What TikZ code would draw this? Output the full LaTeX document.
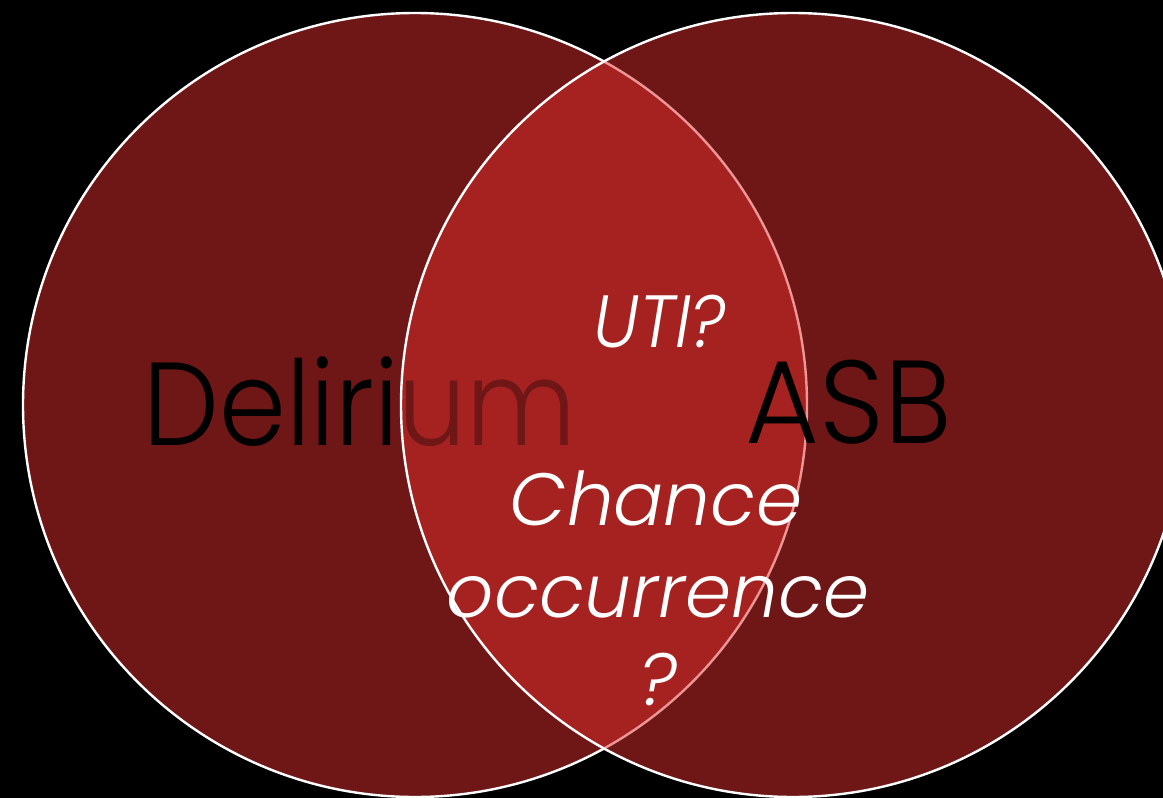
\documentclass[tikz,border=0pt]{standalone}
\usepackage{fontspec}
\setmainfont{Poppins}
\IfFontExistsTF{Poppins Light}{\newfontfamily\lightfont{Poppins Light}}{\newfontfamily\lightfont{Poppins}}
\definecolor{vennred}{RGB}{220,46,44}
\begin{document}
\begin{tikzpicture}[x=1pt,y=-1pt,
  venn/.style={circle,minimum size=784pt,inner sep=0pt,fill=vennred,fill opacity=0.5,draw=white,draw opacity=1,line width=2.4pt},
  bigtxt/.style={anchor=base,inner sep=0pt,text=black,font=\lightfont\fontsize{118}{118}\selectfont},
  wtxt/.style={anchor=base,inner sep=0pt,text=white,font=\lightfont\fontsize{74}{74}\selectfont\itshape}]
\fill[black] (0,0) rectangle (1163,798);
\useasboundingbox (0,0) rectangle (1163,798);
\node[venn] (L) at (415,405) {};
\node[bigtxt,xscale=0.91] (del) at (360,445) {Delirium};
\node[venn] (R) at (793,405) {};
\node[bigtxt,xscale=0.96] (asb) at (849,443) {ASB};
\node[wtxt,xscale=0.93] (uti) at (660,347) {UTI?};
\node[wtxt] (chance) at (656,525) {Chance};
\node[wtxt] (occ) at (658,617) {occurrence};
\node[wtxt] (q) at (658,705) {?};
\end{tikzpicture}
\end{document}
